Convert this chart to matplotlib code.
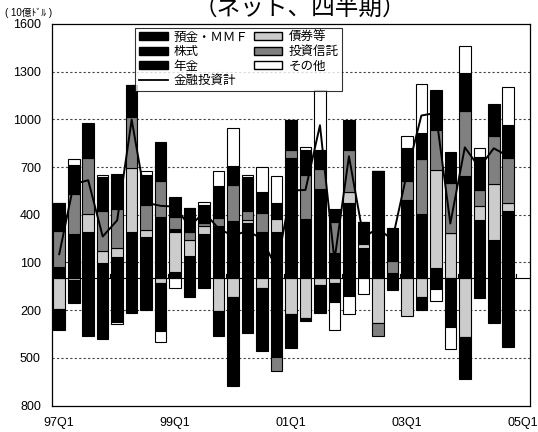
import numpy as np
import matplotlib.pyplot as plt
from matplotlib.patches import Patch
from matplotlib.lines import Line2D

plt.rcParams['font.family'] = ['Liberation Sans', 'Noto Sans CJK JP', 'DejaVu Sans']

# --- DATA (10億ﾄﾞﾙ, 97Q1 .. 04Q4) ---
deposits = [73, 279, 292, 99, 137, 294, 262, 388, 42, 141, 279, 332, 361, 347, 290, 294,
            756, 374, 564, 157, 477, 189, 678, 32, 494, 403, 63, -309, 641, 368, 242, 424]
bonds = [-190, -8, 111, 75, 52, 399, 42, -32, 248, 100, 53, -204, -120, 18, -63, 78,
         -225, -248, -42, -27, 69, 25, -284, 0, -237, -120, 620, 284, -372, 84, 352, 53]
stocks = [-135, -149, -363, -384, -273, -220, -200, -298, 18, -115, -63, -159, -558, -347, -393, -494,
          -216, -21, -179, -120, -111, 143, 0, -73, 0, -80, -69, 0, -264, -126, -273, -435]
trusts = [227, 250, 357, 250, 248, 325, 158, 225, 80, 53, 15, 50, 227, 59, 124, -88,
          52, 277, 126, 198, 262, 0, -79, 79, 119, 347, 252, 315, 409, 105, 303, 279]
pensions = [177, 185, 212, 214, 218, 200, 187, 242, 126, 147, 115, 202, 120, 212, 128, 100,
            185, 157, 116, 80, 185, 0, 0, 204, 206, 164, 247, 193, 242, 205, 201, 210]
others = [0, 36, 8, 9, -17, 0, 27, -69, -63, 0, 17, 92, 237, 11, 161, 173,
          0, 17, 378, -175, -114, -99, 0, 0, 78, 310, -72, -138, 168, 61, -7, 237]
total = [152, 593, 617, 263, 365, 998, 476, 456, 451, 326, 416, 313, 267, 300, 247, 63,
         552, 556, 963, 113, 768, 258, 315, 242, 660, 1024, 1041, 345, 824, 697, 818, 768]

tick_labels = ['97Q1', '99Q1', '01Q1', '03Q1', '05Q1']
tick_pos = [0, 8, 16, 24, 32]

# stacking order as in the original chart
series = [
    ('預金・ＭＭＦ', deposits, '#000000'),
    ('債券等', bonds, '#cccccc'),
    ('株式', stocks, '#000000'),
    ('投資信託', trusts, '#808080'),
    ('年金', pensions, '#000000'),
    ('その他', others, '#ffffff'),
]

fig = plt.figure(figsize=(5.38, 4.32), dpi=100)
ax = fig.add_axes([52 / 538, 1 - 405.5 / 432, 478 / 538, (405.5 - 24) / 432])

x = np.arange(len(total))
pos_bottom = np.zeros(len(x))
neg_bottom = np.zeros(len(x))
for name, vals, col in series:
    v = np.array(vals, dtype=float)
    bottom = np.where(v >= 0, pos_bottom, neg_bottom)
    ax.bar(x, v, bottom=bottom, width=0.8, color=col, edgecolor='black',
           linewidth=0.8, zorder=2)
    pos_bottom += np.where(v >= 0, v, 0)
    neg_bottom += np.where(v < 0, v, 0)

ax.plot(x, total, color='black', lw=1.4, zorder=4)
ax.axhline(0, color='black', lw=0.8, zorder=3)
for xt in np.arange(3.5, 32, 4):
    ax.plot([xt, xt], [0, 28], color='black', lw=0.8, zorder=3)

yt = np.arange(-800, 1601, 300)
for yv in yt[1:-1]:
    if yv != 0:
        ax.axhline(yv, color='#444444', lw=0.8, linestyle=(0, (2, 2)), zorder=1)

ax.set_xlim(-0.5, 32.5)
ax.set_ylim(-800, 1600)
ax.set_yticks(yt)
ax.set_yticklabels([str(abs(v)) for v in yt], fontsize=9)
ax.set_xticks(tick_pos)
ax.set_xticklabels(tick_labels, fontsize=9)
ax.tick_params(axis='y', length=0, pad=8)
ax.tick_params(axis='x', length=0, pad=8)
for s in ax.spines.values():
    s.set_linewidth(0.9)

handles = [
    Patch(facecolor='#000000', edgecolor='black', label='預金・ＭＭＦ'),
    Patch(facecolor='#000000', edgecolor='black', label='株式'),
    Patch(facecolor='#000000', edgecolor='black', label='年金'),
    Line2D([], [], color='black', lw=1.3, label='金融投資計'),
    Patch(facecolor='#cccccc', edgecolor='black', label='債券等'),
    Patch(facecolor='#808080', edgecolor='black', label='投資信託'),
    Patch(facecolor='#ffffff', edgecolor='black', label='その他'),
]
leg = fig.legend(handles=handles, ncol=2, loc='upper left',
                 bbox_to_anchor=(135 / 538, 1 - 28 / 432), fontsize=9,
                 frameon=True, fancybox=False, borderpad=0.3, labelspacing=0.2,
                 handlelength=2.3, handleheight=0.6, handletextpad=0.5,
                 columnspacing=0.4, borderaxespad=0)
leg.get_frame().set_edgecolor('black')
leg.get_frame().set_linewidth(0.8)

fig.text(300 / 538, 1 - 15 / 432, '（ネット、四半期）', fontsize=17, ha='center',
         va='baseline')
fig.text(5 / 538, 1 - 13 / 432, '( 10億ﾄﾞﾙ )', fontsize=7, va='center')

fig.savefig('out.png', dpi=100)
